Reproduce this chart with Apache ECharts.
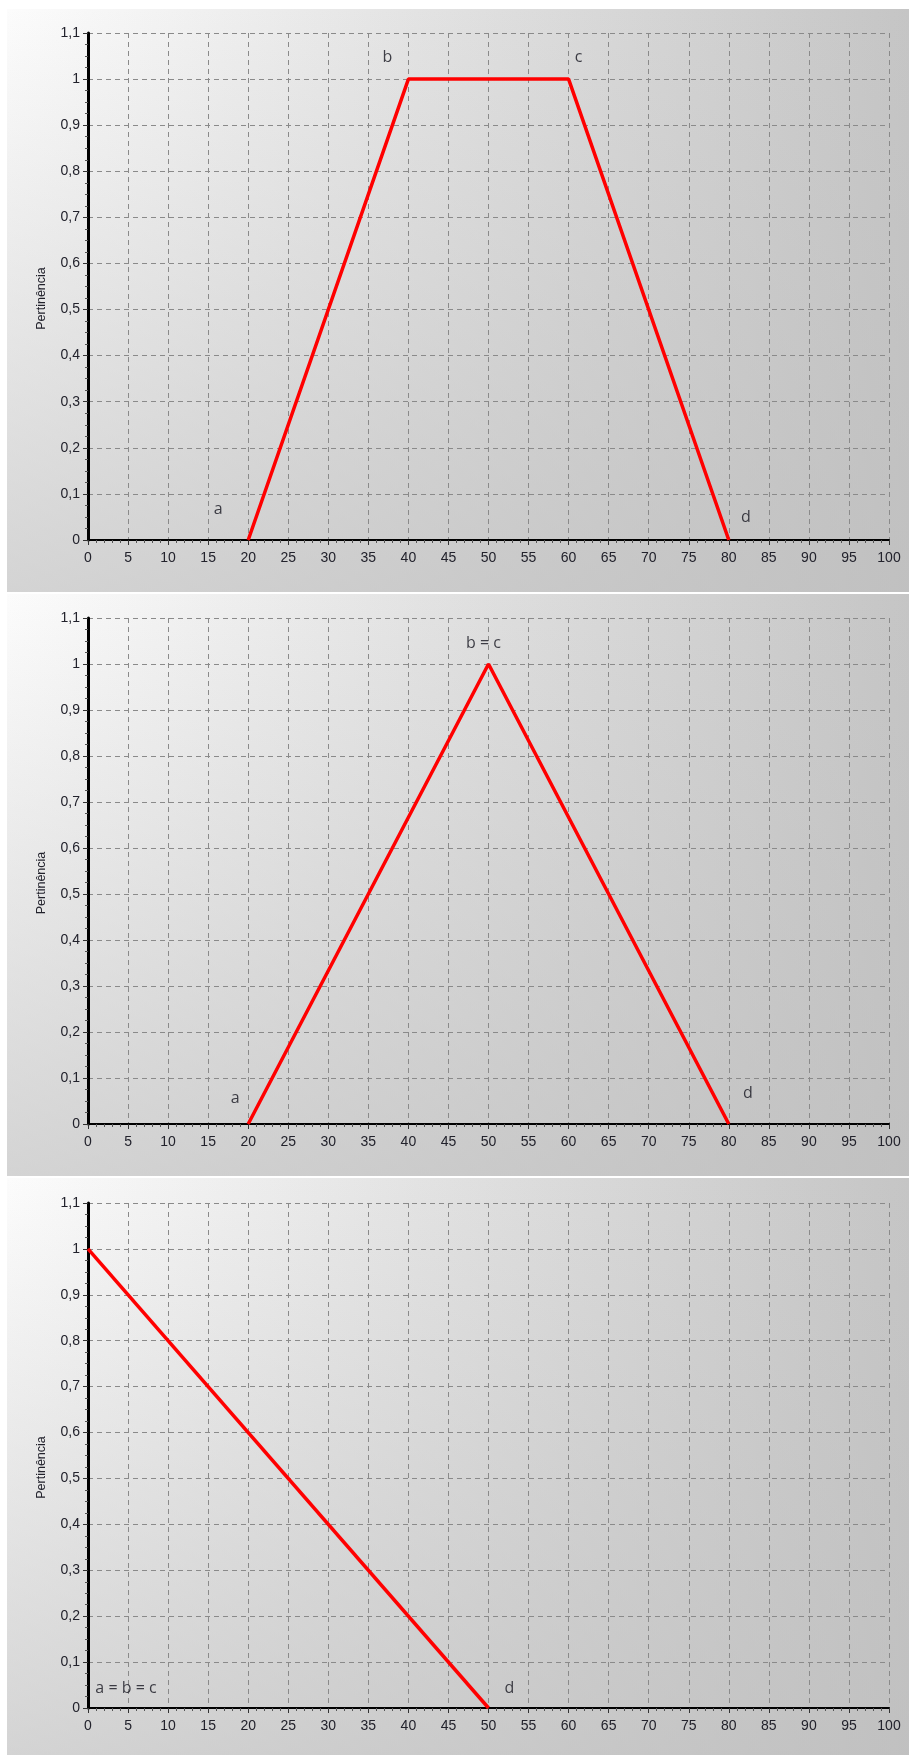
<!DOCTYPE html>
<html><head><meta charset="utf-8">
<script src="https://cdn.jsdelivr.net/npm/echarts@6/dist/echarts.min.js"></script>
<style>
html,body{margin:0;padding:0;background:#fff;width:909px;height:1755px;overflow:hidden;}
.panel{position:absolute;left:7px;width:902px;
background:linear-gradient(to bottom, rgba(190,190,190,0) 0%, rgba(190,190,190,0.65) 100%), linear-gradient(to right, #fcfcfc 0%, #c5c5c5 100%);}
</style></head><body>
<div id="p1" class="panel" style="top:9px;height:583px"></div>
<div id="p2" class="panel" style="top:594px;height:582px"></div>
<div id="p3" class="panel" style="top:1178px;height:577px"></div>
<script>
// ---- data ----
const xMin = 0, xMax = 100, xStep = 5;
const yMin = 0, yMax = 1.1, yStep = 0.1;
const yName = 'Pertinência';

// panel 1: trapezoid a=20, b=40, c=60, d=80
const line1 = [[20, 0], [40, 1], [60, 1], [80, 0]];
const labelText1 = ['a', 'b', 'c', 'd'];
const labelAt1 = [[20, 0], [40, 1], [60, 1], [80, 0]];

// panel 2: triangle a=20, b=c=50, d=80
const line2 = [[20, 0], [50, 1], [80, 0]];
const labelText2 = ['a', 'b = c', 'd'];
const labelAt2 = [[20, 0], [50, 1], [80, 0]];

// panel 3: a=b=c=0, d=50
const line3 = [[0, 1], [50, 0]];
const labelText3 = ['a = b = c', 'd'];
const labelAt3 = [[0, 0], [50, 0]];

// ---- styling (pixel offsets of annotation text) ----
const labelOffset1 = [[-30, -31], [-21, -22], [10, -22], [17, -23]];
const labelOffset2 = [[-13, -26], [-5, -21], [19, -31]];
const labelOffset3 = [[38, -20], [21, -20]];

const tickFont = {fontFamily: 'Liberation Sans, Arial, sans-serif', fontSize: 14, color: '#22222c'};

function fmtY(v) { return String(+(+v).toFixed(1)).replace('.', ','); }

function makeOption(lineData, texts, ats, offsets, grid) {
  const pts = texts.map((t, i) => ({
    name: t,
    value: ats[i],
    label: {offset: offsets[i]}
  }));
  return {
    animation: false,
    backgroundColor: 'transparent',
    grid: Object.assign({containLabel: false}, grid),
    xAxis: {
      type: 'value', min: xMin, max: xMax, interval: xStep,
      axisLine: {show: true, onZero: false, lineStyle: {color: '#000', width: 2}},
      axisTick: {show: true, length: 5, lineStyle: {color: '#333', width: 1}},
      minorTick: {show: true, splitNumber: 5, length: 3, lineStyle: {color: '#555', width: 1}},
      axisLabel: Object.assign({margin: 11}, tickFont),
      splitLine: {show: true, lineStyle: {color: '#8a8a8a', width: 1, type: [5, 4]}},
      z: 3
    },
    yAxis: {
      type: 'value', min: yMin, max: yMax, interval: yStep,
      name: yName, nameLocation: 'middle', nameGap: 40, nameRotate: 90,
      nameTextStyle: {fontFamily: 'Liberation Sans, Arial, sans-serif', fontSize: 12.5, color: '#22222c', padding: [0, 24, 0, 0]},
      axisLine: {show: true, onZero: false, lineStyle: {color: '#000', width: 3}},
      axisTick: {show: true, length: 5, lineStyle: {color: '#333', width: 1}},
      minorTick: {show: true, splitNumber: 4, length: 3, lineStyle: {color: '#555', width: 1}},
      axisLabel: Object.assign({margin: 8, formatter: fmtY}, tickFont),
      splitLine: {show: true, lineStyle: {color: '#8a8a8a', width: 1, type: [5, 4]}},
      z: 3
    },
    series: [
      {
        type: 'line', data: lineData, symbol: 'none', z: 5,
        lineStyle: {color: '#ff0000', width: 3.5}
      },
      {
        type: 'scatter', data: pts, symbolSize: 0, z: 6, silent: true,
        label: {
          show: true, position: 'inside', formatter: p => p.name,
          fontFamily: 'Open Sans, sans-serif', fontSize: 16, color: '#14141e'
        }
      }
    ]
  };
}

const c1 = echarts.init(document.getElementById('p1'), null, {renderer: 'canvas'});
c1.setOption(makeOption(line1, labelText1, labelAt1, labelOffset1, {left: 81, right: 20, top: 24, bottom: 52}));
const c2 = echarts.init(document.getElementById('p2'), null, {renderer: 'canvas'});
c2.setOption(makeOption(line2, labelText2, labelAt2, labelOffset2, {left: 81, right: 20, top: 24, bottom: 52}));
const c3 = echarts.init(document.getElementById('p3'), null, {renderer: 'canvas'});
c3.setOption(makeOption(line3, labelText3, labelAt3, labelOffset3, {left: 81, right: 20, top: 25, bottom: 47}));
</script>
</body></html>
